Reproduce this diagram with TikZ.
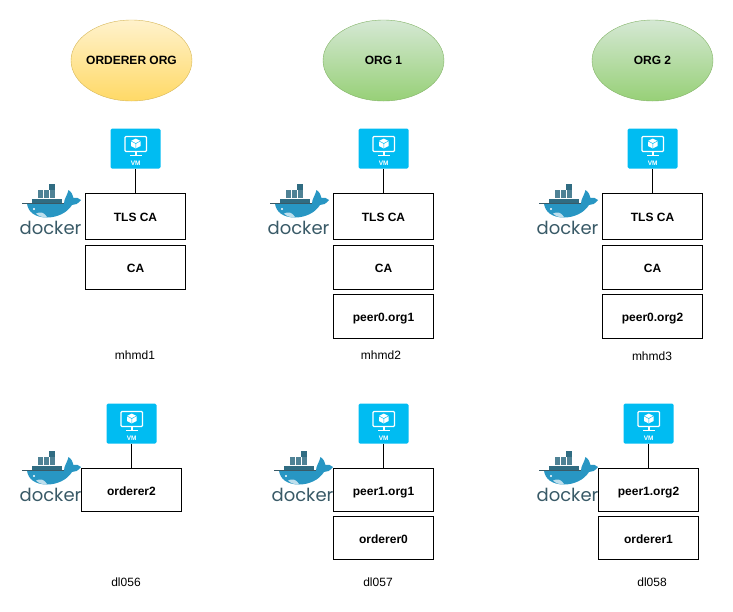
\documentclass[tikz,border=0pt]{standalone}
\usepackage{fontspec}
\setmainfont{Liberation Sans}
\newfontfamily\dockerfont{Poppins}
\usepackage{xcolor}
\definecolor{vmblue}{RGB}{0,188,242}
\definecolor{whaleblue}{RGB}{40,150,195}
\definecolor{whaledark}{RGB}{57,90,103}
\definecolor{cratedark}{RGB}{48,108,130}
\definecolor{orangetop}{RGB}{255,242,204}
\definecolor{orangebot}{RGB}{255,217,102}
\definecolor{orangeline}{RGB}{214,182,86}
\definecolor{greentop}{RGB}{213,232,212}
\definecolor{greenbot}{RGB}{151,208,119}
\definecolor{greenline}{RGB}{130,179,102}
\usetikzlibrary{arrows.meta,positioning,shapes.geometric,calc}
\tikzset{
  orgnode/.style={draw=#1line, ellipse, top color=#1top, bottom color=#1bot,
                  font=\fontsize{12}{14}\selectfont\bfseries, text=black,
                  minimum width=121pt, minimum height=81pt, inner sep=0pt},
  hostbox/.style={draw, fill=white, font=\fontsize{12}{14}\selectfont\bfseries,
                  minimum width=100pt, inner sep=0pt, line width=0.8pt,
                  text height=10pt, text depth=0pt},
  vmnode/.style={fill=vmblue, rounded corners=1.5pt, minimum width=50pt,
                 minimum height=40pt, inner sep=0pt},
  hostlabel/.style={font=\fontsize{12}{14}\selectfont, inner sep=0pt},
  dockertext/.style={font=\dockerfont\fontsize{18}{20}\selectfont, text=whaledark,
                     inner sep=0pt, anchor=base},
  vmicon/.pic={
    \draw[white, line width=1.3pt, rounded corners=1pt] (-10.5,-12) rectangle (11,3);
    \fill[white] (-1,3) rectangle (1.5,6.5);
    \fill[white] (-6,6.5) rectangle (6.5,7.6);
    \fill[white] (0.25,-10) -- (5,-7.5) -- (5,-2.5) -- (0.25,0) -- (-4.5,-2.5) -- (-4.5,-7.5) -- cycle;
    \draw[vmblue, line width=0.5pt] (-4.5,-7.5) -- (0.25,-5) -- (5,-7.5) (0.25,-5) -- (0.25,0);
    \node[white, font=\fontsize{6.5}{7}\selectfont\bfseries, inner sep=0pt] at (0.25,15.2) {VM};
  },
  whale/.pic={
    % crates
    \foreach \cx in {12,18,24,30,36}
      \fill[cratedark] (\cx,14.8) rectangle ++(5.7,4.6);
    \foreach \cx in {17.5,23.5,29.5}
      \fill[cratedark!85!white] (\cx,6) rectangle ++(5.7,8.4);
    \fill[cratedark] (29,0) rectangle ++(6,5.6);
    % body
    \fill[whaleblue] (7,19.5) -- (44,19.5) .. controls (44,15) and (47,12) .. (48.5,6)
      .. controls (51.5,8) and (53,11) .. (53.5,14) .. controls (56,13) and (59,14) .. (61,16)
      .. controls (58,20) and (55,21) .. (52,21) .. controls (47,29) and (37,33.5) .. (27,33.5)
      .. controls (15,33.5) and (8,28) .. (7,19.5) -- cycle;
    \draw[whaledark, line width=0.5pt] (2,19.5) -- (44,19.5);
    \fill[white] (14,25) circle (1.2pt);
    \fill[white!70!whaleblue] (16,29.5) .. controls (20,27.5) and (24,28) .. (27,33) .. controls (22,33.5) and (19,32.5) .. (16,29.5) -- cycle;
  },
}

\begin{document}
\begin{tikzpicture}[x=1pt, y=-1pt]
\useasboundingbox (0,0) rectangle (733,611);

% Organisations
\node[orgnode=orange] (ordererorg) at (131.5,60.5) {\makebox[0pt]{ORDERER ORG}};
\node[orgnode=green] (org1) at (383.5,60.5) {\makebox[0pt]{ORG 1}};
\node[orgnode=green] (org2) at (652.5,60.5) {\makebox[0pt]{ORG 2}};

% Top row boxes
\node[hostbox, minimum height=46pt] (tls1) at (135.5,216.5) {TLS CA};
\node[hostbox, minimum height=44pt] (ca1) at (135.5,267.5) {CA};

\node[hostbox, minimum height=46pt] (tls2) at (383.5,216.5) {TLS CA};
\node[hostbox, minimum height=44pt] (ca2) at (383.5,267.5) {CA};
\node[hostbox, minimum height=44pt] (peer2) at (383.5,316.5) {peer0.org1};

\node[hostbox, minimum height=46pt] (tls3) at (652.5,216.5) {TLS CA};
\node[hostbox, minimum height=44pt] (ca3) at (652.5,267.5) {CA};
\node[hostbox, minimum height=44pt] (peer3) at (652.5,316.5) {peer0.org2};

% Bottom row boxes
\node[hostbox, minimum height=43pt] (orderer2) at (131.5,490) {orderer2};

\node[hostbox, minimum height=43pt] (peer4) at (383.5,490) {peer1.org1};
\node[hostbox, minimum height=43pt] (orderer0) at (383.5,538) {orderer0};

\node[hostbox, minimum height=43pt] (peer5) at (648.5,490) {peer1.org2};
\node[hostbox, minimum height=43pt] (orderer1) at (648.5,538) {orderer1};

% VMs
\node[vmnode] (vm1) at (135.5,148.5) {};
\node[vmnode] (vm2) at (383.5,148.5) {};
\node[vmnode] (vm3) at (652.5,148.5) {};
\node[vmnode] (vm4) at (131.5,423.5) {};
\node[vmnode] (vm5) at (383.5,423.5) {};
\node[vmnode] (vm6) at (648.5,423.5) {};
\foreach \n in {1,...,6}
  \pic at (vm\n.center) {vmicon};

\draw[line width=0.8pt] (vm1) -- (tls1);
\draw[line width=0.8pt] (vm2) -- (tls2);
\draw[line width=0.8pt] (vm3) -- (tls3);
\draw[line width=0.8pt] (vm4) -- (orderer2);
\draw[line width=0.8pt] (vm5) -- (peer4);
\draw[line width=0.8pt] (vm6) -- (peer5);

% Docker logos
\pic at (20,184) {whale};
\node[dockertext] (dock1) at (50.5,234) {docker};
\pic at (268,184) {whale};
\node[dockertext] (dock2) at (298.5,234) {docker};
\pic at (537,184) {whale};
\node[dockertext] (dock3) at (567.5,234) {docker};
\pic at (20,451) {whale};
\node[dockertext] (dock4) at (50.5,501) {docker};
\pic at (272,451) {whale};
\node[dockertext] (dock5) at (302.5,501) {docker};
\pic at (537,451) {whale};
\node[dockertext] (dock6) at (567.5,501) {docker};

% Host names
\node[hostlabel] (host1) at (135,355) {mhmd1};
\node[hostlabel] (host2) at (381,355) {mhmd2};
\node[hostlabel] (host3) at (652,356.5) {mhmd3};
\node[hostlabel] (host4) at (126,582) {dl056};
\node[hostlabel] (host5) at (378,582) {dl057};
\node[hostlabel] (host6) at (652,582) {dl058};

\end{tikzpicture}
\end{document}
